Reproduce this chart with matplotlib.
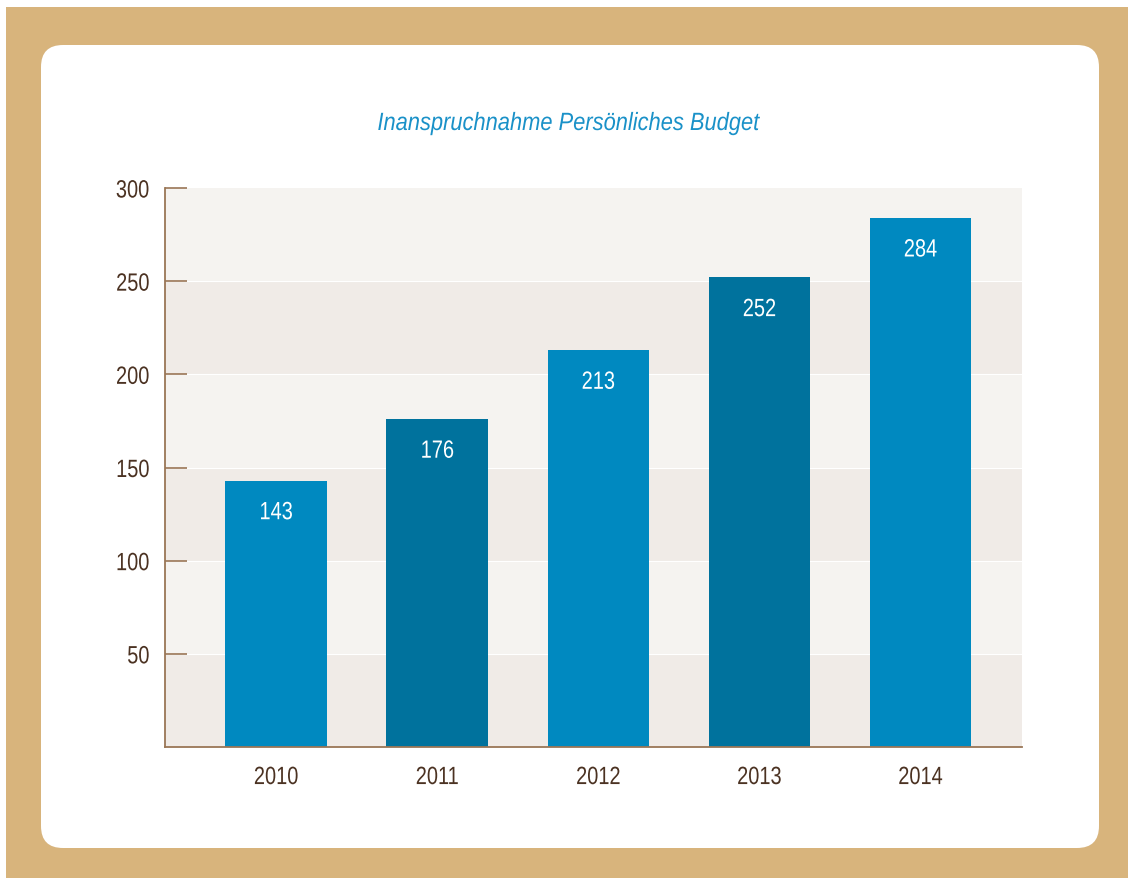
import matplotlib
matplotlib.use("Agg")
import matplotlib.pyplot as plt
from matplotlib.patches import FancyBboxPatch, Rectangle
from matplotlib.patheffects import AbstractPathEffect
from matplotlib.transforms import Affine2D
from matplotlib import font_manager

years = ["2010", "2011", "2012", "2013", "2014"]
values = [143, 176, 213, 252, 284]
yticks = [50, 100, 150, 200, 250, 300]
title = "Inanspruchnahme Persönliches Budget"

names = {f.name for f in font_manager.fontManager.ttflist}
fam = [n for n in ["Liberation Sans Narrow", "Liberation Sans", "DejaVu Sans"] if n in names]
plt.rcParams["font.family"] = fam
narrow_available = fam[0] == "Liberation Sans Narrow"


class Narrow(AbstractPathEffect):
    """Horizontally condense text glyphs around an anchor (emulates a narrow face)."""

    def __init__(self, sx=0.82, anchor="center"):
        super().__init__()
        self.sx = sx
        self.anchor = anchor

    def draw_path(self, renderer, gc, tpath, affine, rgbFace=None):
        ext = tpath.get_extents(affine)
        if self.anchor == "right":
            cx = ext.x1
        elif self.anchor == "left":
            cx = ext.x0
        else:
            cx = 0.5 * (ext.x0 + ext.x1)
        t = affine + Affine2D().translate(-cx, 0).scale(self.sx, 1).translate(cx, 0)
        renderer.draw_path(gc, tpath, t, rgbFace)


def pe(sx, anchor="center"):
    return [] if narrow_available else [Narrow(sx, anchor)]


W, H = 1130, 882
fig = plt.figure(figsize=(W / 100, H / 100), dpi=100)
fig.patch.set_facecolor("white")

# background layer in pixel coordinates
bg = fig.add_axes([0, 0, 1, 1])
bg.set_xlim(0, W)
bg.set_ylim(H, 0)
bg.axis("off")
bg.add_patch(Rectangle((6, 7), 1122, 871, facecolor="#d8b47c", edgecolor="none"))
bg.add_patch(FancyBboxPatch((41, 45), 1058, 803,
                            boxstyle="round,pad=0,rounding_size=22",
                            facecolor="white", edgecolor="none"))

brown_text = "#4b3222"
spine_col = "#9a7656"
c_light = "#0089c0"
c_dark = "#00729d"
FS = 18

ax = fig.add_axes([165 / W, 1 - 747 / H, (1022 - 165) / W, (747 - 188) / H])
ax.set_xlim(-0.69, 4.63)
ax.set_ylim(0, 300)
band_cols = ["#f0ebe7", "#f5f3f0"]
for i in range(6):
    ax.axhspan(i * 50, (i + 1) * 50, facecolor=band_cols[i % 2], edgecolor="none", zorder=0)
for i in range(1, 6):
    ax.axhline(i * 50, color="white", lw=0.8, zorder=0.5)

cols = [c_light if i % 2 == 0 else c_dark for i in range(len(values))]
x = list(range(len(values)))
ax.bar(x, values, width=0.63, color=cols, zorder=2)
for xi, v in zip(x, values):
    ax.text(xi, v - 17, str(v), ha="center", va="center", color="white", fontsize=FS,
            zorder=3, path_effects=pe(0.8))

ax.set_yticks(yticks)
ax.set_yticklabels([str(t) for t in yticks])
ax.set_xticks(x)
ax.set_xticklabels(years)
ax.tick_params(axis="y", direction="in", length=15.5, width=1.2, color=spine_col,
               labelsize=FS, labelcolor=brown_text, pad=11)
ax.tick_params(axis="x", length=0, labelsize=FS, labelcolor=brown_text, pad=13)
for lab in ax.get_yticklabels():
    lab.set_path_effects(pe(0.8, "right"))
for lab in ax.get_xticklabels():
    lab.set_path_effects(pe(0.8))
for s in ["top", "right"]:
    ax.spines[s].set_visible(False)
for s in ["left", "bottom"]:
    ax.spines[s].set_color(spine_col)
    ax.spines[s].set_linewidth(1.3)
    ax.spines[s].set_zorder(4)

fig.text(568 / W, 1 - 123 / H, title, ha="center", va="center", color="#1a91c8",
         fontsize=FS, style="italic", path_effects=pe(0.875))

fig.savefig("out.png", dpi=100)
